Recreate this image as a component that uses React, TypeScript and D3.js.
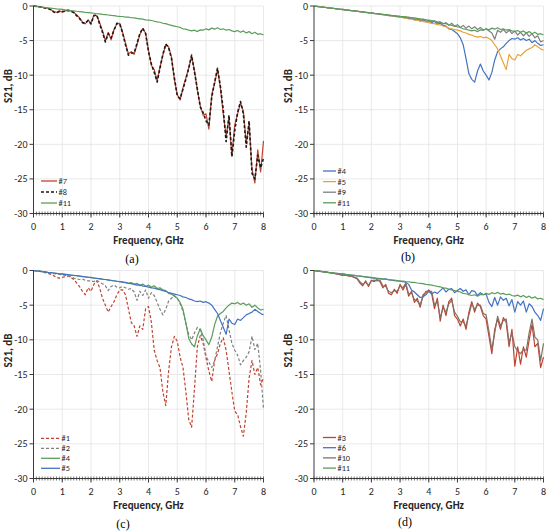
import * as d3 from 'd3'

const FREQ_STEP = 0.1

const S11 = [0, -0.05, -0.12, -0.16, -0.22, -0.27, -0.31, -0.36, -0.42, -0.46,
  -0.5, -0.56, -0.6, -0.66, -0.7, -0.76, -0.8, -0.86, -0.92, -0.96,
  -1.0, -1.05, -1.12, -1.15, -1.22, -1.26, -1.3, -1.36, -1.4, -1.46,
  -1.5, -1.52, -1.6, -1.62, -1.7, -1.72, -1.8, -1.85, -1.9, -2.0,
  -2.05, -2.1, -2.2, -2.3, -2.35, -2.5, -2.55, -2.7, -2.8, -2.9,
  -3.0, -3.1, -3.3, -3.35, -3.5, -3.6, -3.5, -3.7, -3.45, -3.5,
  -3.3, -3.45, -3.2, -3.35, -3.15, -3.4, -3.3, -3.5, -3.4, -3.6,
  -3.7, -3.55, -3.8, -3.6, -3.9, -3.7, -4.0, -3.8, -4.1, -4.0, -4.2]

const S7 = [0, -0.05, -0.1, -0.15, -0.25, -0.3, -0.5, -0.8, -0.9, -0.7,
  -0.9, -0.7, -0.6, -0.7, -0.9, -1.3, -1.7, -2.3, -2.6, -2.0,
  -2.5, -1.3, -1.4, -2.4, -3.6, -5.0, -3.8, -4.9, -3.4, -2.6,
  -2.5, -3.8, -5.4, -6.9, -6.6, -7.0, -5.6, -4.1, -3.3, -3.9,
  -6.4, -8.6, -9.2, -10.8, -8.8, -7.1, -5.6, -5.9, -7.4, -10.6,
  -12.8, -13.6, -11.8, -10.4, -8.9, -7.3, -9.3, -12.2, -14.4, -15.8,
  -15.6, -17.8, -12.8, -11.2, -9.2, -11.8, -15.6, -18.8, -16.2, -21.6,
  -17.2, -15.6, -14.0, -15.2, -19.8, -17.0, -23.6, -25.6, -20.8, -24.0, -19.5]

const S8 = [0, -0.05, -0.1, -0.2, -0.3, -0.35, -0.55, -0.85, -1.0, -0.8,
  -0.8, -0.75, -0.65, -0.75, -0.95, -1.4, -1.8, -2.4, -2.5, -2.1,
  -2.6, -1.4, -1.3, -2.6, -3.8, -5.2, -4.0, -4.6, -3.5, -2.5,
  -2.6, -3.9, -5.6, -7.1, -6.8, -6.8, -5.4, -4.0, -3.2, -4.0,
  -6.6, -8.4, -9.6, -11.0, -9.0, -7.0, -5.5, -6.0, -7.6, -10.4,
  -13.0, -13.4, -12.0, -10.6, -9.0, -7.1, -9.6, -12.0, -14.6, -15.4,
  -16.6, -17.2, -13.2, -11.0, -9.0, -11.6, -15.0, -19.6, -15.8, -21.8,
  -18.0, -15.4, -13.8, -15.6, -20.4, -16.6, -24.2, -25.0, -21.6, -23.4, -22.0]

const S4 = [0, -0.05, -0.1, -0.15, -0.22, -0.27, -0.3, -0.36, -0.42, -0.47,
  -0.5, -0.55, -0.62, -0.66, -0.7, -0.76, -0.82, -0.86, -0.9, -0.98,
  -1.0, -1.1, -1.12, -1.2, -1.25, -1.3, -1.38, -1.42, -1.5, -1.55,
  -1.6, -1.65, -1.72, -1.8, -1.75, -2.0, -1.85, -2.2, -1.95, -2.3,
  -2.1, -2.4, -2.2, -2.6, -2.5, -2.8, -2.9, -3.3, -3.4, -3.7,
  -4.0, -4.6, -5.6, -7.6, -9.8, -10.6, -11.0, -9.4, -8.4, -9.4,
  -10.0, -10.7, -9.6, -7.8, -6.6, -6.2, -5.9, -5.4, -5.0, -4.7,
  -4.8, -4.6, -4.9, -4.7, -5.0, -4.8, -5.3, -5.0, -5.4, -5.7, -5.6]

const S5 = [0, -0.06, -0.1, -0.16, -0.21, -0.28, -0.32, -0.36, -0.41, -0.48,
  -0.52, -0.56, -0.6, -0.67, -0.72, -0.75, -0.8, -0.88, -0.92, -0.97,
  -1.02, -1.08, -1.14, -1.18, -1.26, -1.3, -1.36, -1.44, -1.48, -1.55,
  -1.6, -1.7, -1.75, -1.85, -1.9, -2.0, -2.1, -2.05, -2.25, -2.3,
  -2.4, -2.5, -2.55, -2.7, -2.75, -2.9, -3.0, -3.2, -3.3, -3.4,
  -3.5, -3.6, -3.8, -3.9, -4.1, -4.2, -4.4, -4.5, -4.4, -4.6,
  -4.5, -4.7, -5.0, -5.6, -6.2, -7.2, -8.2, -9.2, -7.0, -7.6,
  -7.8, -7.0, -7.2, -6.8, -6.4, -6.2, -6.0, -5.6, -5.9, -6.2, -6.4]

const S9 = [0, -0.05, -0.11, -0.15, -0.21, -0.26, -0.32, -0.35, -0.41, -0.47,
  -0.51, -0.55, -0.61, -0.65, -0.71, -0.75, -0.81, -0.87, -0.91, -0.97,
  -1.01, -1.06, -1.1, -1.17, -1.2, -1.27, -1.31, -1.37, -1.42, -1.45,
  -1.5, -1.6, -1.55, -1.75, -1.7, -1.9, -1.85, -2.0, -2.1, -2.0,
  -2.2, -2.3, -2.15, -2.4, -2.3, -2.6, -2.4, -2.8, -2.5, -2.9,
  -2.7, -3.1, -2.8, -3.2, -2.9, -3.3, -3.0, -3.4, -3.1, -3.5,
  -3.3, -3.6, -3.9, -4.8, -3.5, -3.8, -3.4, -3.9, -3.5, -4.0,
  -3.6, -4.2, -3.8, -4.3, -3.9, -4.4, -4.0, -4.6, -4.3, -5.2, -5.0]

const S1 = [0, -0.05, -0.12, -0.2, -0.3, -0.4, -0.55, -0.75, -1.0, -1.1,
  -1.0, -0.9, -0.8, -1.0, -1.3, -1.8, -2.3, -3.0, -3.5, -2.5,
  -3.0, -2.0, -1.5, -2.5, -4.0, -5.0, -6.0, -5.2, -4.5, -3.5,
  -2.8, -2.8, -3.5, -5.5, -7.5, -8.0, -9.5, -8.0, -8.5, -5.5,
  -5.2, -7.5, -11.5, -13.0, -14.0, -17.5, -19.5, -14.5, -11.0, -9.5,
  -10.2, -12.5, -14.0, -17.5, -21.5, -22.6, -17.0, -11.0, -9.4, -10.5,
  -12.6, -14.5, -16.0, -13.0, -12.0, -10.5, -9.7, -11.5, -14.5, -17.5,
  -20.3, -20.8, -22.5, -23.9, -20.5, -15.5, -13.0, -15.0, -14.0, -16.5, -15.5]

const S2 = [0, -0.05, -0.1, -0.15, -0.2, -0.3, -0.35, -0.45, -0.5, -0.55,
  -0.6, -0.7, -0.8, -0.9, -1.1, -1.2, -1.3, -1.25, -1.4, -1.5,
  -1.5, -1.6, -1.4, -1.7, -1.9, -2.2, -2.9, -2.3, -2.1, -2.4,
  -2.5, -2.3, -2.5, -2.7, -2.6, -3.1, -4.3, -3.0, -3.6, -2.8,
  -4.0, -3.2, -3.6, -4.6, -5.6, -6.4, -5.6, -4.4, -4.0, -3.6,
  -4.0, -4.8, -5.9, -7.6, -9.2, -10.0, -9.0, -8.2, -8.6, -10.0,
  -12.3, -13.2, -14.0, -13.0, -11.0, -9.0, -7.6, -6.5, -8.5, -10.5,
  -11.5, -12.2, -13.6, -13.0, -12.5, -11.7, -9.5, -11.4, -10.5, -14.5, -20.0]

const S3 = [0, -0.05, -0.1, -0.18, -0.22, -0.3, -0.35, -0.42, -0.5, -0.6,
  -0.7, -0.65, -0.8, -0.75, -1.0, -1.2, -1.8, -2.2, -1.5, -2.3,
  -1.4, -1.6, -1.3, -1.6, -2.5, -2.0, -3.3, -3.5, -2.7, -3.3,
  -2.0, -2.8, -2.0, -3.7, -3.0, -4.6, -4.0, -5.3, -3.5, -3.2,
  -2.8, -3.3, -5.5, -4.0, -7.3, -5.0, -6.5, -4.5, -4.0, -6.5,
  -7.0, -8.0, -7.0, -8.5, -6.0, -4.5, -6.0, -4.7, -5.2, -6.5,
  -7.0, -9.5, -12.0, -8.5, -7.0, -8.5, -6.8, -7.5, -11.0, -8.5,
  -13.8, -11.0, -13.5, -11.0, -12.5, -10.0, -7.8, -11.0, -10.5, -14.0, -12.5]

const S6 = [0, -0.05, -0.1, -0.15, -0.2, -0.26, -0.3, -0.36, -0.4, -0.46,
  -0.5, -0.56, -0.62, -0.66, -0.7, -0.78, -0.82, -0.88, -0.92, -1.0,
  -1.05, -1.1, -1.15, -1.2, -1.25, -1.2, -1.35, -1.4, -1.45, -1.5,
  -1.55, -1.6, -1.7, -2.0, -2.8, -3.1, -3.5, -3.9, -3.8, -3.5,
  -3.0, -3.4, -3.1, -3.3, -2.9, -2.5, -3.1, -2.7, -2.6, -3.2,
  -2.9, -2.6, -3.0, -2.8, -3.5, -2.9, -3.0, -3.6, -3.2, -3.5,
  -3.4, -4.6, -5.2, -3.9, -5.0, -3.8, -4.3, -4.0, -5.1, -4.2,
  -6.0, -4.5, -5.0, -4.4, -6.0, -4.8, -5.2, -6.0, -6.5, -7.2, -5.5]

const S10 = [0, -0.05, -0.12, -0.16, -0.24, -0.28, -0.36, -0.4, -0.52, -0.58,
  -0.68, -0.7, -0.75, -0.85, -0.95, -1.1, -1.6, -2.0, -1.7, -2.1,
  -1.5, -1.4, -1.5, -1.4, -2.2, -2.3, -3.0, -3.2, -2.9, -3.0,
  -2.2, -2.5, -1.8, -3.4, -3.2, -4.2, -4.4, -4.9, -3.8, -3.0,
  -3.0, -3.0, -5.0, -4.4, -6.8, -5.4, -6.0, -4.8, -4.3, -6.0,
  -6.6, -7.4, -7.4, -8.0, -6.4, -4.8, -5.6, -5.0, -5.0, -6.2,
  -6.4, -8.8, -11.4, -9.0, -6.6, -8.0, -7.2, -7.0, -10.4, -9.0,
  -11.0, -11.6, -12.0, -11.4, -11.5, -9.0, -7.0, -9.6, -10.0, -13.0, -10.5]

const X_TICKS = [0, 1, 2, 3, 4, 5, 6, 7, 8]
const Y_TICKS = [0, -5, -10, -15, -20, -25, -30]

const RED = '#C0432F'
const BLACK = '#1a1a1a'
const GREEN = '#5A9E5A'
const BLUE = '#4472C4'
const ORANGE = '#E8A33A'
const GRAY = '#808080'
const BROWN_GRAY = '#857068'
const AXIS = '#3a3a3a'
const GRID = '#e3e3e3'
const TEXT = '#262626'
const FONT = "Calibri, Carlito, Lato, 'Open Sans', sans-serif"

interface Series { name: string; values: number[]; color: string; dash?: string; width?: number }
interface PanelCfg {
  label: string
  x0: number; x1: number; y0: number; y1: number
  labelX: number; labelY: number
  legX: number; legLen: number; legY: number; legStep: number
  series: Series[]
}

const PANELS: PanelCfg[] = [
  {
    label: '(a)', x0: 33.5, x1: 263.5, y0: 6, y1: 213.5, labelX: 132, labelY: 263,
    legX: 41, legLen: 16, legY: 181, legStep: 11,
    series: [
      { name: '#7', values: S7, color: RED },
      { name: '#8', values: S8, color: BLACK, dash: '3,2', width: 1.6 },
      { name: '#11', values: S11, color: GREEN },
    ],
  },
  {
    label: '(b)', x0: 314, x1: 543.5, y0: 6, y1: 213.5, labelX: 408, labelY: 261,
    legX: 323, legLen: 13, legY: 171, legStep: 10.6,
    series: [
      { name: '#4', values: S4, color: BLUE },
      { name: '#5', values: S5, color: ORANGE },
      { name: '#9', values: S9, color: GRAY },
      { name: '#11', values: S11, color: GREEN },
    ],
  },
  {
    label: '(c)', x0: 33.5, x1: 263.5, y0: 270.5, y1: 478.5, labelX: 123, labelY: 528,
    legX: 41, legLen: 19, legY: 438.3, legStep: 10,
    series: [
      { name: '#1', values: S1, color: RED, dash: '3,2' },
      { name: '#2', values: S2, color: GRAY, dash: '3,2' },
      { name: '#4', values: S4, color: GREEN },
      { name: '#5', values: S5, color: BLUE },
    ],
  },
  {
    label: '(d)', x0: 314, x1: 543.5, y0: 270.5, y1: 478.5, labelX: 405, labelY: 526,
    legX: 323, legLen: 13, legY: 437.5, legStep: 10.2,
    series: [
      { name: '#3', values: S3, color: RED },
      { name: '#6', values: S6, color: BLUE },
      { name: '#10', values: S10, color: BROWN_GRAY },
      { name: '#11', values: S11, color: GREEN },
    ],
  },
]

function Panel({ cfg }: { cfg: PanelCfg }) {
  const x = d3.scaleLinear().domain([0, 8]).range([cfg.x0, cfg.x1])
  const y = d3.scaleLinear().domain([-30, 0]).range([cfg.y1, cfg.y0])
  const line = d3.line<number>()
    .x((_, i) => x(i * FREQ_STEP))
    .y((d) => y(d))
  const minor = d3.range(0, 81).map((i) => i * FREQ_STEP)
  const cx = (cfg.x0 + cfg.x1) / 2

  return (
    <g>
      {/* grid */}
      {X_TICKS.slice(1).map((t) => (
        <line key={`gx${t}`} x1={x(t)} x2={x(t)} y1={cfg.y0} y2={cfg.y1} stroke={GRID} strokeWidth={0.8} />
      ))}
      {Y_TICKS.slice(0, -1).map((t) => (
        <line key={`gy${t}`} x1={cfg.x0} x2={cfg.x1} y1={y(t)} y2={y(t)} stroke={GRID} strokeWidth={0.8} />
      ))}

      {/* series */}
      {cfg.series.map((s) => (
        <path key={s.name} d={line(s.values) ?? ''} fill="none" stroke={s.color}
          strokeWidth={s.width ?? 1.2} strokeDasharray={s.dash} strokeLinejoin="round" />
      ))}

      {/* axes */}
      <line x1={cfg.x0} x2={cfg.x0} y1={cfg.y0} y2={cfg.y1} stroke={AXIS} strokeWidth={1} />
      <line x1={cfg.x0} x2={cfg.x1} y1={cfg.y1} y2={cfg.y1} stroke={AXIS} strokeWidth={1} />
      {minor.map((t, i) => (
        <line key={`mt${i}`} x1={x(t)} x2={x(t)} y1={cfg.y1 - 2} y2={cfg.y1 + 2} stroke={AXIS} strokeWidth={0.7} />
      ))}
      {X_TICKS.map((t) => (
        <line key={`xt${t}`} x1={x(t)} x2={x(t)} y1={cfg.y1} y2={cfg.y1 + 4} stroke={AXIS} strokeWidth={1} />
      ))}
      {Y_TICKS.map((t) => (
        <line key={`yt${t}`} x1={cfg.x0 - 4} x2={cfg.x0} y1={y(t)} y2={y(t)} stroke={AXIS} strokeWidth={1} />
      ))}

      {/* tick labels */}
      {X_TICKS.map((t) => (
        <text key={`xl${t}`} x={x(t)} y={cfg.y1 + 16.5} textAnchor="middle" fontSize={10} fill={TEXT} fontFamily={FONT}>{t}</text>
      ))}
      {Y_TICKS.map((t) => (
        <text key={`yl${t}`} x={cfg.x0 - 6} y={y(t) + 3.5} textAnchor="end" fontSize={10} fill={TEXT} fontFamily={FONT}>{t}</text>
      ))}

      {/* titles */}
      <text x={cx} y={cfg.y1 + 30} textAnchor="middle" fontSize={11} fontWeight="bold" fill={TEXT} fontFamily={FONT}>Frequency, GHz</text>
      <text transform={`translate(${cfg.x0 - 22},${cfg.y0 + 80}) rotate(-90)`} textAnchor="middle" fontSize={11}
        fontWeight="bold" fill={TEXT} fontFamily={FONT}>S21, dB</text>
      <text x={cfg.labelX} y={cfg.labelY} textAnchor="middle" fontSize={12} fill="#000" fontFamily="'Liberation Serif', 'Times New Roman', serif">{cfg.label}</text>

      {/* legend */}
      {cfg.series.map((s, i) => {
        const ly = cfg.legY + i * cfg.legStep
        return (
          <g key={`lg${s.name}`}>
            <line x1={cfg.legX} x2={cfg.legX + cfg.legLen} y1={ly} y2={ly} stroke={s.color}
              strokeWidth={s.width ?? 1.3} strokeDasharray={s.dash} />
            <text x={cfg.legX + cfg.legLen + 1.5} y={ly + 3} fontSize={8.3} fill={TEXT} fontFamily={FONT}>{s.name}</text>
          </g>
        )
      })}
    </g>
  )
}

export default function App() {
  return (
    <svg width={550} height={532} style={{ position: 'absolute', left: 0, top: 0, background: '#fff' }}>
      <rect width={550} height={532} fill="#fff" />
      {PANELS.map((p) => <Panel key={p.label} cfg={p} />)}
    </svg>
  )
}
